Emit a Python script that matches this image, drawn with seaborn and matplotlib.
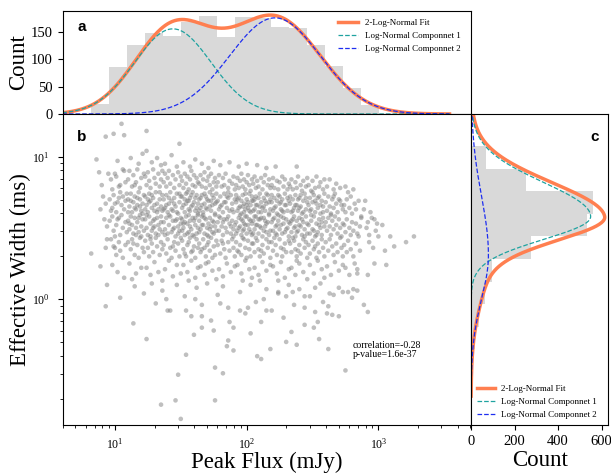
import numpy as np
import pandas as pd
import seaborn as sns
import matplotlib
matplotlib.use("Agg")
import matplotlib.pyplot as plt

# top histogram: peak flux counts in equal log10 bins
flux_bin_range = (0.818, 3.005)   # log10(mJy)
flux_counts = [18, 86, 125, 147, 142, 168, 179, 141, 176, 174, 159, 157, 126, 87, 47, 17]

# right histogram: effective width counts in equal log10 bins (low -> high)
width_bin_range = (-0.827, 1.233)  # log10(ms)
width_counts = [3, 4, 9, 18, 38, 62, 98, 276, 534, 559, 255, 68, 6]

# fitted components: (amplitude, mean log10, sigma)
flux_comp1 = (155, 1.44, 0.29)
flux_comp2 = (175, 2.215, 0.344)
# width components: (amplitude, mean log10, sigma below, sigma above)
width_comp1 = (550, 0.579, 0.16, 0.24)
width_comp2 = (80, 0.31, 0.31, 0.41)

corr_text = "correlation=-0.28\np-value=1.6e-37"

# scatter points, (log10 flux, log10 width) in units of 0.01 dex
pts_low = [(93,114),(86,98),(88,89),(91,72),(89,63),(94,51),(82,32),(89,23),(90,80),(93,67),(94,42),(92,56),(95,88),(93,36),
    (99,116),(105,123),(107,115),(102,97),(97,84),(100,88),(103,79),(106,91),(108,82),(98,77),(101,86),(104,80),(107,90),(96,70),(98,64),(99,73),(101,61),(102,68),(104,75),(105,66),(106,72),(107,63),(108,69),(109,74),(97,62),(100,67),(103,71),(96,55),(98,58),(99,48),(101,52),(103,57),(104,45),(105,59),(106,50),(108,54),(109,47),(100,44),(102,56),(97,42),(99,37),(101,31),(103,40),(104,34),(106,29),(108,38),(100,36),(98,24),(102,19),(107,15),
    (112,99),(118,95),(121,102),(110,84),(111,90),(113,79),(114,87),(116,82),(117,91),(119,78),(120,85),(122,88),(115,80),(110,70),(111,65),(112,74),(113,61),(114,68),(115,72),(116,63),(117,66),(118,75),(119,70),(120,62),(121,67),(122,73),(110,61),(112,69),(115,64),(117,71),(119,65),(121,60),(110,55),(111,49),(112,58),(113,52),(114,46),(115,57),(116,50),(117,54),(118,47),(119,59),(120,51),(121,56),(122,48),(111,53),(116,45),(118,57),(120,44),(110,40),(112,35),(113,42),(115,31),(117,38),(118,29),(119,43),(121,36),(122,33),(114,39),(111,25),(116,18),(120,22),(113,14),
    (124,118),(124,104),(128,96),(132,99),(135,94),(123,86),(124,80),(125,89),(126,83),(127,78),(129,91),(130,85),(131,81),(133,88),(134,79),(135,84),(136,90),(123,72),(124,66),(125,61),(126,74),(127,69),(128,64),(129,71),(130,62),(131,75),(132,67),(133,63),(134,70),(135,65),(136,73),(123,63),(126,68),(128,73),(130,66),(132,61),(134,75),(136,62),(125,70),(123,56),(124,50),(125,45),(126,58),(127,53),(128,48),(129,55),(130,51),(131,46),(132,57),(133,52),(134,49),(135,54),(136,47),(124,59),(127,44),(130,56),(133,45),(135,58),(129,50),(123,41),(125,36),(126,30),(128,39),(129,33),(131,43),(132,37),(134,31),(135,40),(136,35),(127,42),(124,22),(127,17),(130,26),(133,19),(136,13),
    (149,109),(138,95),(143,101),(147,93),(137,82),(138,88),(139,79),(140,85),(141,90),(142,81),(144,87),(145,78),(146,84),(148,89),(149,80),(150,86),(137,70),(138,64),(139,73),(140,61),(141,67),(142,75),(143,69),(144,62),(145,71),(146,65),(147,74),(148,60),(149,68),(150,72),(137,63),(139,66),(141,71),(143,63),(145,67),(147,61),(149,74),(137,54),(138,49),(139,57),(140,46),(141,52),(142,58),(143,47),(144,55),(145,50),(146,44),(147,56),(148,51),(149,48),(150,53),(138,45),(141,59),(144,49),(146,55),(148,46),(150,57),(137,38),(139,32),(140,42),(142,36),(143,29),(145,40),(146,34),(148,39),(149,30),(150,43),(144,37),(138,21),(141,27),(144,16),(147,24),(150,18)]

pts_mid = [(152,96),(157,93),(161,98),(151,83),(152,78),(153,88),(154,81),(155,86),(156,77),(157,84),(158,90),(159,80),(160,87),(161,79),(162,85),(163,82),(151,72),(152,66),(153,61),(154,74),(155,69),(156,63),(157,71),(158,65),(159,75),(160,68),(161,62),(162,73),(163,67),(151,64),(153,70),(155,75),(157,62),(159,66),(161,71),(163,60),(154,67),(158,73),(156,69),(162,64),(151,56),(152,50),(153,45),(154,58),(155,53),(156,47),(157,55),(158,49),(159,57),(160,44),(161,52),(162,46),(163,59),(151,48),(153,54),(155,46),(157,51),(159,45),(161,57),(163,50),(152,53),(156,59),(160,55),(151,41),(152,35),(154,30),(155,38),(157,43),(158,33),(160,37),(161,29),(162,42),(163,36),(153,32),(156,40),(159,34),(152,24),(155,19),(158,27),(161,15),(163,22),(156,13),
    (166,95),(171,92),(175,97),(164,81),(165,87),(166,79),(167,84),(168,89),(169,78),(170,83),(171,86),(172,80),(173,88),(174,77),(175,82),(176,85),(177,79),(164,70),(165,64),(166,73),(167,61),(168,67),(169,72),(170,63),(171,69),(172,75),(173,62),(174,66),(175,71),(176,60),(177,68),(164,62),(166,66),(168,74),(170,70),(172,65),(174,73),(176,67),(165,71),(169,64),(173,69),(177,74),(164,55),(165,49),(166,58),(167,52),(168,46),(169,56),(170,50),(171,44),(172,57),(173,51),(174,47),(175,54),(176,59),(177,48),(164,47),(166,52),(168,57),(170,45),(172,49),(174,55),(176,51),(167,59),(171,53),(175,46),(164,39),(165,33),(167,42),(168,36),(169,30),(171,40),(172,34),(173,43),(175,37),(176,31),(177,41),(166,35),(170,38),(174,29),(165,23),(168,17),(171,26),(174,20),(177,14),(169,25),
    (180,94),(187,96),(178,82),(179,87),(181,79),(182,85),(183,80),(184,88),(186,78),(187,83),(189,81),(190,86),(191,77),(178,69),(179,63),(180,72),(181,66),(182,61),(183,74),(184,68),(185,64),(186,71),(187,62),(188,73),(189,67),(190,61),(191,70),(180,65),(183,68),(186,75),(189,63),(185,72),(178,54),(179,48),(180,57),(181,51),(182,45),(183,56),(184,50),(185,47),(186,58),(187,53),(188,46),(189,55),(190,49),(191,52),(179,58),(182,54),(185,56),(188,51),(190,44),(178,38),(180,32),(181,41),(183,35),(184,29),(186,40),(187,34),(189,42),(190,36),(191,30),(182,39),(179,21),(182,16),(185,25),(188,19),(191,23),
    (194,93),(200,95),(192,80),(193,85),(194,78),(195,83),(196,88),(197,79),(198,84),(199,77),(200,82),(201,87),(202,80),(203,76),(204,84),(192,68),(193,62),(194,71),(195,65),(196,60),(197,73),(198,67),(199,63),(200,70),(201,64),(202,74),(203,61),(204,69),(192,73),(194,64),(196,69),(198,61),(200,66),(202,62),(204,72),(193,70),(197,65),(199,74),(201,68),(203,66),(192,54),(193,48),(194,57),(195,51),(196,45),(197,55),(198,49),(199,58),(200,46),(201,52),(202,56),(203,47),(204,53),(192,46),(194,50),(196,56),(198,53),(200,58),(202,49),(204,45),(195,59),(199,52),(203,55),(197,48),(192,40),(193,34),(195,38),(196,31),(197,43),(199,36),(200,29),(201,41),(202,35),(204,39),(194,33),(198,42),(203,30),(193,24),(196,18),(199,27),(202,21),(204,15),(197,13),
    (208,94),(215,92),(205,81),(206,86),(207,78),(208,83),(209,79),(211,85),(212,77),(213,82),(214,87),(216,80),(217,84),(218,78),(205,69),(206,63),(207,72),(208,66),(209,61),(210,74),(211,68),(212,64),(213,71),(214,62),(215,67),(216,73),(217,60),(218,70),(205,62),(207,66),(209,71),(211,61),(213,65),(215,74),(217,68),(206,70),(210,65),(214,69),(218,63),(205,55),(206,49),(207,58),(208,52),(209,46),(210,56),(211,50),(212,44),(213,57),(214,51),(215,47),(216,54),(217,59),(218,48),(205,46),(207,52),(209,56),(211,57),(213,48),(215,53),(217,45),(206,58),(210,51),(214,55),(205,39),(206,33),(208,41),(209,35),(210,30),(212,38),(213,32),(215,42),(216,36),(218,29),(207,43),(211,34),(217,40),(206,22),(209,17),(212,26),(215,20),(218,24),(210,13)]

pts_high = [(222,93),(219,80),(220,85),(221,78),(223,83),(224,77),(225,82),(227,86),(228,79),(229,84),(231,77),(232,81),(219,68),(220,62),(221,71),(222,65),(223,60),(224,73),(225,67),(226,63),(227,70),(228,61),(229,74),(230,66),(231,62),(232,69),(219,73),(221,64),(223,69),(225,72),(227,62),(229,66),(231,71),(226,68),(219,54),(220,48),(221,57),(222,51),(223,45),(224,55),(225,49),(226,58),(227,46),(228,53),(229,47),(230,56),(231,50),(232,44),(220,56),(222,46),(224,59),(226,52),(228,57),(230,49),(232,54),(223,52),(219,40),(220,34),(222,38),(223,31),(225,42),(226,36),(227,30),(229,39),(230,33),(232,41),(221,43),(228,35),(220,23),(223,18),(226,26),(229,15),(232,21),(224,13),
    (238,93),(233,79),(234,84),(235,77),(237,82),(238,78),(239,86),(241,80),(242,76),(243,83),(245,79),(246,85),(233,67),(234,61),(235,70),(236,64),(237,73),(238,66),(239,62),(240,71),(241,65),(242,60),(243,69),(244,74),(245,63),(246,68),(233,72),(235,62),(237,66),(239,70),(241,73),(243,61),(245,71),(240,64),(233,53),(234,47),(235,56),(236,50),(237,44),(238,55),(239,48),(240,57),(241,51),(242,45),(243,54),(244,49),(245,58),(246,46),(234,55),(236,58),(238,47),(240,52),(242,56),(244,44),(246,53),(237,51),(233,39),(234,33),(236,41),(237,35),(238,30),(240,38),(241,32),(243,42),(244,36),(246,29),(235,43),(239,34),(245,40),(234,22),(237,17),(240,25),(243,19),(246,14),(238,27),
    (247,80),(249,76),(250,83),(252,78),(253,86),(255,79),(256,82),(258,77),(259,84),(247,66),(248,71),(249,63),(250,68),(251,73),(252,61),(253,67),(254,64),(255,72),(256,60),(257,69),(258,65),(259,74),(248,62),(250,75),(252,69),(254,71),(256,66),(258,61),(247,52),(248,46),(249,55),(250,49),(251,58),(252,44),(253,53),(254,47),(255,56),(256,50),(257,45),(258,57),(259,51),(249,59),(251,48),(253,45),(255,52),(257,54),(247,38),(248,32),(250,41),(251,35),(253,29),(254,39),(255,33),(257,42),(258,36),(259,30),(252,37),(248,24),(251,18),(254,27),(257,21),(259,15),
    (261,79),(263,84),(266,77),(268,81),(271,78),(260,68),(261,62),(262,72),(263,65),(264,60),(265,70),(266,64),(267,74),(268,67),(269,61),(271,69),(272,66),(273,63),(266,72),(270,70),(260,54),(261,48),(262,57),(263,51),(264,45),(265,55),(266,49),(267,58),(268,52),(269,46),(270,56),(271,50),(272,44),(273,53),(264,59),(260,40),(262,34),(263,42),(265,37),(266,31),(268,39),(269,33),(271,43),(272,36),(273,30),(261,23),(264,17),(267,26),(270,20),(273,24),
    (277,75),(275,79),(281,77),(274,66),(275,61),(276,70),(278,64),(279,72),(280,60),(282,67),(283,63),(285,69),(287,58),(274,52),(275,47),(276,56),(278,50),(279,45),(280,54),(281,48),(283,53),(284,46),(286,51),(287,57),(285,44),(274,38),(276,33),(277,41),(279,35),(281,30),(283,39),(286,34),(275,22),(278,17),(282,25),(284,21),(284,18),
    (292,17),(293,40),(293,45),(292,54),(297,25),(300,44),(289,63),(291,50),(295,57),(296,36),(298,48),(290,69),(294,61),(299,53),(303,52),(297,56),(306,24),(305,34),(312,37),(321,40),(327,44),(309,44)]

pts_narrow = [(94,10),(93,-5),(104,1),(114,-17),(124,-28),(154,-39),(148,-53),(135,-74),(146,-71),(150,-84),(176,-71),(182,-52),(186,-29),(190,-36),(166,-20),(175,-22),(203,-24),(211,-42),(218,-35),(234,-23),(238,-32),(140,-8),(154,-8),(139,0),(161,0),(180,-3),(166,-12),(187,-16),(195,-8),(201,-6),(213,0),(215,-8),(224,5),(230,2),(235,5),
    (275,-50),(251,-20),(254,-16),(261,-10),(265,-11),(292,-9),(244,-6),(258,-2),(263,4),(273,5),(277,5),(281,7),(284,6),(270,8),(252,8),(244,2),
    (115,9),(122,4),(128,11),(131,-3),(136,6),(142,-8),(147,10),(153,2),(158,-12),(162,8),(166,-4),(170,11),(173,-15),(178,3),(182,9),(186,-6),(190,-20),(195,5),(199,-10),(203,10),(207,-2),(211,-16),(215,7),(219,-8),(224,4),(228,-13),(232,10),(236,-4),(240,7),(244,-18),(248,2),(252,-9),(256,11),(262,-5),(266,3),(270,-12),(280,1),(289,-4),(255,-28),(230,-30),(185,-33),(160,-25),(208,-40),(176,-48),(262,-35)]

FIT_C = "#FF7F50"
C1 = "#1FA3A0"
C2 = "#1E2EF0"
BAR = "#d9d9d9"

plt.rcParams["font.family"] = ["Liberation Serif", "DejaVu Serif"]
plt.rcParams["mathtext.fontset"] = "stix"


def split_gauss(u, amp, mu, s_lo, s_hi):
    s = np.where(u < mu, s_lo, s_hi)
    return amp * np.exp(-(u - mu) ** 2 / (2 * s ** 2))


pts = np.array(pts_low + pts_mid + pts_high + pts_narrow, dtype=float)
scat = pd.DataFrame({"flux": 10 ** (pts[:, 0] / 100), "width": 10 ** (pts[:, 1] / 100)})

fig = plt.figure(figsize=(6.11, 4.74), dpi=100)
ax_top = fig.add_axes([0.1023, 0.7595, 0.6686, 0.2179])
ax = fig.add_axes([0.1023, 0.1034, 0.6686, 0.6561])
ax_r = fig.add_axes([0.7709, 0.1034, 0.2250, 0.6561])

XLIM = (4.0, 5050)
YLIM = (0.131, 19.9)
LAB = 16.5
TICK = 10.5

# main scatter
sns.scatterplot(data=scat, x="flux", y="width", ax=ax, color="gray", alpha=0.5,
                s=11, edgecolor="none")
ax.set_xscale("log")
ax.set_yscale("log")
ax.set_xlim(*XLIM)
ax.set_ylim(*YLIM)
ax.set_xlabel("Peak Flux (mJy)", fontsize=LAB, labelpad=0)
ax.set_ylabel("Effective Width (ms)", fontsize=LAB)
ax.yaxis.set_label_coords(-0.076, 0.5)
ax.tick_params(labelsize=8.5)
ax.tick_params(axis="y", pad=6)
ax.tick_params(axis="x", pad=5)
ax.text(0.71, 0.27, corr_text, transform=ax.transAxes, fontsize=7, va="top", linespacing=1.0)
ax.text(0.047, 0.927, "b", transform=ax.transAxes, fontsize=11, fontweight="bold",
        family="Liberation Sans", va="center", ha="center")

# top histogram + fit
nb = len(flux_counts)
fe = np.linspace(*flux_bin_range, nb + 1)
fcent = 10 ** ((fe[:-1] + fe[1:]) / 2)
sns.histplot(x=fcent, weights=flux_counts, bins=nb, binrange=flux_bin_range, log_scale=True,
             ax=ax_top, color=BAR, alpha=1, edgecolor="none", linewidth=0)
u = np.linspace(0.55, 3.54, 500)
g1 = split_gauss(u, flux_comp1[0], flux_comp1[1], flux_comp1[2], flux_comp1[2])
g2 = split_gauss(u, flux_comp2[0], flux_comp2[1], flux_comp2[2], flux_comp2[2])
ax_top.plot(10 ** u, g1 + g2, color=FIT_C, lw=2.5, label="2-Log-Normal Fit")
ax_top.plot(10 ** u, g1, color=C1, lw=0.9, ls="--", label="Log-Normal Componnet 1")
ax_top.plot(10 ** u, g2, color=C2, lw=0.9, ls="--", label="Log-Normal Componnet 2")
ax_top.set_xlim(*XLIM)
ax_top.set_ylim(0, 188)
ax_top.set_yticks([0, 50, 100, 150])
ax_top.tick_params(axis="x", which="both", bottom=False, labelbottom=False)
ax_top.tick_params(axis="y", labelsize=TICK)
ax_top.set_xlabel("")
ax_top.set_ylabel("Count", fontsize=LAB)
ax_top.yaxis.set_label_coords(-0.082, 0.5)
ax_top.legend(loc="upper right", frameon=False, fontsize=6.5, handlelength=2.2,
              bbox_to_anchor=(0.995, 1.0))
ax_top.text(0.047, 0.84, "a", transform=ax_top.transAxes, fontsize=11, fontweight="bold",
            family="Liberation Sans", va="center", ha="center")

# right histogram + fit
nw = len(width_counts)
we = np.linspace(*width_bin_range, nw + 1)
wcent = 10 ** ((we[:-1] + we[1:]) / 2)
sns.histplot(y=wcent, weights=width_counts, bins=nw, binrange=width_bin_range, log_scale=True,
             ax=ax_r, color=BAR, alpha=1, edgecolor="none", linewidth=0)
v = np.linspace(-0.68, 1.29, 500)
h1 = split_gauss(v, *width_comp1)
h2 = split_gauss(v, *width_comp2)
ax_r.plot(h1 + h2, 10 ** v, color=FIT_C, lw=2.5, label="2-Log-Normal Fit")
ax_r.plot(h1, 10 ** v, color=C1, lw=0.9, ls="--", label="Log-Normal Componnet 1")
ax_r.plot(h2, 10 ** v, color=C2, lw=0.9, ls="--", label="Log-Normal Componnet 2")
ax_r.set_ylim(*YLIM)
ax_r.set_xlim(0, 632)
ax_r.set_xticks([0, 200, 400, 600])
ax_r.tick_params(axis="y", which="both", left=False, labelleft=False)
ax_r.tick_params(axis="x", labelsize=TICK)
ax_r.set_ylabel("")
ax_r.set_xlabel("Count", fontsize=LAB, labelpad=2)
ax_r.legend(loc="lower left", frameon=False, fontsize=6.5, handlelength=2.0,
            borderaxespad=0.3, handletextpad=0.6)
ax_r.text(0.897, 0.927, "c", transform=ax_r.transAxes, fontsize=11, fontweight="bold",
          family="Liberation Sans", va="center", ha="center")

fig.savefig("out.png", dpi=100)
